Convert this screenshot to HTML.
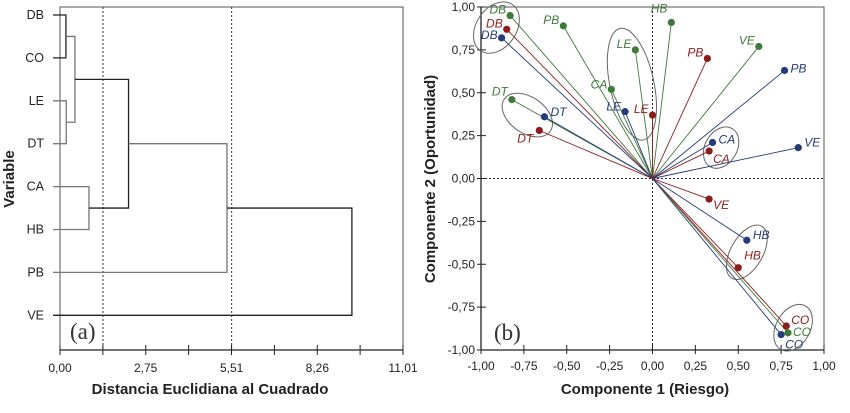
<!DOCTYPE html>
<html><head><meta charset="utf-8"><style>
html,body{margin:0;padding:0;background:#fff;}
svg{display:block;font-family:"Liberation Sans",sans-serif;}
</style></head><body>
<svg id="chart" width="850" height="413" viewBox="0 0 850 413">
<g id="left"></g>
<g id="right"></g>
</svg>
<script>
// ---- Dendrogram data ----
const leaves = ["DB","CO","LE","DT","CA","HB","PB","VE"];
const dTicks = [0,2.75,5.51,8.26,11.01];
const dTickLabels = ["0,00","2,75","5,51","8,26","11,01"];
const cutLines = [1.38,5.51];
const merges = [["L0","L1",0.19],["L2","L3",0.2],["N0","N1",0.48],["L4","L5",0.93],["N2","N3",2.2],["N4","L6",5.36],["N5","L7",9.37]];
const mergeGray = [false,true,true,true,false,true,false];

// ---- Biplot data ----
const bpLabels = ["DB","DB","DB","PB","HB","LE","PB","VE","PB","CA","LE","LE","DT","DT","DT","CA","CA","VE","VE","HB","HB","CO","CO","CO"];
const bpSeries = ["g","r","b","g","g","g","r","g","b","g","b","r","g","b","r","b","r","b","r","b","r","r","g","b"];
const bpX = [-0.83,-0.85,-0.88,-0.52,0.11,-0.10,0.32,0.62,0.77,-0.24,-0.16,0.00,-0.82,-0.63,-0.66,0.35,0.33,0.85,0.33,0.55,0.50,0.78,0.79,0.75];
const bpY = [0.95,0.87,0.82,0.89,0.91,0.75,0.70,0.77,0.63,0.52,0.39,0.37,0.46,0.36,0.28,0.21,0.16,0.18,-0.12,-0.36,-0.52,-0.86,-0.90,-0.91];
const bpTicks = [-1,-0.75,-0.5,-0.25,0,0.25,0.5,0.75,1];
const bpTickLabels = ["-1,00","-0,75","-0,50","-0,25","0,00","0,25","0,50","0,75","1,00"];
const ellCx = [-0.91,-0.73,-0.12,0.40,0.55,0.82];
const ellCy = [0.88,0.37,0.55,0.18,-0.43,-0.87];

const NS="http://www.w3.org/2000/svg";
function mk(parent,tag,attrs,text){const e=document.createElementNS(NS,tag);for(const k in attrs)e.setAttribute(k,attrs[k]);if(text!==undefined)e.textContent=text;parent.appendChild(e);return e;}

// ===== Left panel =====
const L=document.getElementById('left');
const lx0=60,lx1=403,ly0=7,ly1=350;
const dx=v=>lx0+v/11.01*(lx1-lx0);
const rowY=i=>15+i*42.9;
let el;
el=mk(L,'rect',{x:lx0,y:ly0,width:lx1-lx0,height:ly1-ly0,fill:'none',stroke:'#555','stroke-width':1});

cutLines.forEach(c=>{el=mk(L,'line',{x1:dx(c),x2:dx(c),y1:ly0,y2:ly1,stroke:'#333','stroke-dasharray':'2,2','stroke-width':1});
});
el=mk(L,'line',{x1:lx0,x2:lx1,y1:ly1,y2:ly1,stroke:'#222','stroke-width':1.3});

for(let i=0;i<=8;i++){const v=i*11.01/8;el=mk(L,'line',{x1:dx(v),x2:dx(v),y1:ly1-5,y2:ly1+5,stroke:'#222'});
}
dTicks.forEach((v,i)=>{el=mk(L,'text',{x:dx(v),y:ly1+22,'text-anchor':'middle','font-size':12,fill:'#222'},dTickLabels[i]);
});
el=mk(L,'text',{x:210,y:394,'text-anchor':'middle','font-size':15,'font-weight':'bold',fill:'#222'},'Distancia Euclidiana al Cuadrado');

el=mk(L,'text',{x:14,y:179,'text-anchor':'middle','font-size':15,'font-weight':'bold',fill:'#222',transform:'rotate(-90 14 179)'},'Variable');

el=mk(L,'text',{x:70,y:339,'font-size':23,'font-family':'Liberation Serif, serif',fill:'#333'},'(a)');

const nodes={};
leaves.forEach((n,i)=>{nodes['L'+i]={x:53,y:rowY(i)};
el=mk(L,'text',{x:44,y:rowY(i)+4,'text-anchor':'end','font-size':12.5,fill:'#222'},n);
});
merges.forEach((m,i)=>{const a=nodes[m[0]],b=nodes[m[1]],x=dx(m[2]);
const col=mergeGray[i]?'#777':'#222';
const d=`M${a.x},${a.y}H${x}V${b.y}H${b.x}`;
el=mk(L,'path',{d:d,fill:'none',stroke:col,'stroke-width':1.3});

nodes['N'+i]={x:x,y:(a.y+b.y)/2};});

// ===== Right panel =====
const R=document.getElementById('right');
const rx0=481,rx1=824,ry0=7,ry1=350;
const px=v=>rx0+(v+1)/2*(rx1-rx0);
const py=v=>ry1-(v+1)/2*(ry1-ry0);
const colors={g:'#3f7a3a',r:'#8e1b1b',b:'#243a7a'};
el=mk(R,'rect',{x:rx0,y:ry0,width:rx1-rx0,height:ry1-ry0,fill:'none',stroke:'#555','stroke-width':1});

el=mk(R,'line',{x1:rx0,x2:rx1,y1:py(0),y2:py(0),stroke:'#222','stroke-dasharray':'2,2'});

el=mk(R,'line',{x1:px(0),x2:px(0),y1:ry0,y2:ry1,stroke:'#222','stroke-dasharray':'2,2'});

el=mk(R,'line',{x1:rx0,x2:rx1,y1:ry1,y2:ry1,stroke:'#222','stroke-width':1.3});

el=mk(R,'line',{x1:rx0,x2:rx0,y1:ry0,y2:ry1,stroke:'#222','stroke-width':1.3});

bpTicks.forEach((v,i)=>{
el=mk(R,'line',{x1:px(v),x2:px(v),y1:ry1-5,y2:ry1+4,stroke:'#222'});

el=mk(R,'text',{x:px(v),y:ry1+20,'text-anchor':'middle','font-size':12,fill:'#222'},bpTickLabels[i]);

el=mk(R,'line',{x1:rx0-4,x2:rx0+5,y1:py(v),y2:py(v),stroke:'#222'});

el=mk(R,'text',{x:rx0-6,y:py(v)+4,'text-anchor':'end','font-size':12,fill:'#222'},bpTickLabels[i]);
});
el=mk(R,'text',{x:645,y:394,'text-anchor':'middle','font-size':15,'font-weight':'bold',fill:'#222'},'Componente 1 (Riesgo)');

el=mk(R,'text',{x:435,y:179,'text-anchor':'middle','font-size':15,'font-weight':'bold',fill:'#222',transform:'rotate(-90 435 179)'},'Componente 2 (Oportunidad)');

el=mk(R,'text',{x:494,y:340,'font-size':23,'font-family':'Liberation Serif, serif',fill:'#333'},'(b)');

const ellRx=[20,28,22,16,16,17],ellRy=[28,18,57,22,30,25],ellRot=[35,35,-12,30,30,30];
ellCx.forEach((c,i)=>{const cx=px(c),cy=py(ellCy[i]);
el=mk(R,'ellipse',{cx:cx,cy:cy,rx:ellRx[i],ry:ellRy[i],fill:'none',stroke:'#666','stroke-width':1,transform:`rotate(${ellRot[i]} ${cx} ${cy})`});
});
bpX.forEach((v,i)=>{el=mk(R,'line',{x1:px(0),y1:py(0),x2:px(v),y2:py(bpY[i]),stroke:colors[bpSeries[i]],'stroke-width':0.9});
});
const lblDx=[-4,-4,-4,-4,-4,-4,-4,-4,6,-4,-4,-4,-4,6,-6,6,4,6,4,6,6,5,5,4];
const lblDy=[-2,-2,1,-2,-10,-2,-2,-2,2,-1,-1,-2,-4,-1,12,1,12,-1,10,-1,-8,-2,3,14];
const lblAnchor=["end","end","end","end","end","end","end","end","start","end","end","end","end","start","end","start","start","start","start","start","start","start","start","start"];
bpX.forEach((v,i)=>{const x=px(v),y=py(bpY[i]);
el=mk(R,'circle',{cx:x,cy:y,r:3.6,fill:colors[bpSeries[i]]});

el=mk(R,'text',{x:x+lblDx[i],y:y+lblDy[i],'text-anchor':lblAnchor[i],'font-size':12,'font-style':'italic',fill:colors[bpSeries[i]]},bpLabels[i]);
});
</script>
</body></html>
